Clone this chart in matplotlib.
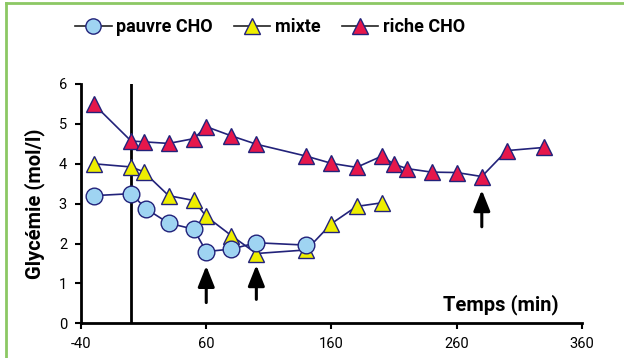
import matplotlib
matplotlib.use('Agg')
import matplotlib.pyplot as plt
from matplotlib.lines import Line2D

# glycemia (mmol/l) vs time (min)
pauvre_t = [-30, 0, 12, 30, 50, 60, 80, 100, 140]
pauvre_g = [3.2, 3.25, 2.87, 2.51, 2.36, 1.8, 1.86, 2.02, 1.96]

mixte_t = [-30, 0, 10, 30, 50, 60, 80, 100, 140, 160, 180, 200]
mixte_g = [4.0, 3.92, 3.8, 3.2, 3.08, 2.68, 2.2, 1.75, 1.84, 2.5, 2.93, 3.02]

riche_t = [-30, 0, 10, 30, 50, 60, 80, 100, 140, 160, 180, 200, 210, 220, 240, 260, 280, 300, 330]
riche_g = [5.5, 4.57, 4.55, 4.51, 4.63, 4.93, 4.7, 4.49, 4.19, 4.01, 3.91, 4.19, 3.99,
           3.88, 3.79, 3.78, 3.68, 4.33, 4.41]

# arrows: (time, base, tip)
arrows = [(60, 0.52, 1.44), (100, 0.6, 1.46), (280, 2.42, 3.34)]

xticks = [-40, 60, 160, 260, 360]
yticks = [0, 1, 2, 3, 4, 5, 6]

navy = '#22227a'
blue = '#9fd4f2'
yellow = '#eeee00'
red = '#e6174b'
fnt = 'Roboto'
plt.rcParams['axes.unicode_minus'] = False

fig = plt.figure(figsize=(6.24, 3.58), dpi=100, facecolor='white')
ax = fig.add_axes([0.1298, 0.0969, 0.8029, 0.6685])

mk = dict(ms=11, mec=navy, mew=1.0, lw=1.2, color=navy)
ax.plot(riche_t, riche_g, '^', mfc=red, ls='-', zorder=3, **mk)
ax.plot(mixte_t, mixte_g, '^', mfc=yellow, ls='-', zorder=4, **mk)
ax.plot(pauvre_t, pauvre_g, 'o', mfc=blue, ls='-', zorder=5, **{**mk, 'ms': 12})

# start of exercise
ax.axvline(0, color='black', lw=2, zorder=2)

for t, y0, y1 in arrows:
    ax.annotate('', xy=(t, y1), xytext=(t, y0),
                arrowprops=dict(arrowstyle='-|>,head_length=0.7,head_width=0.28',
                                lw=2.2, color='black', mutation_scale=18, shrinkA=0, shrinkB=0))

ax.set_xlim(-40, 360)
ax.set_ylim(0, 6)
ax.set_xticks(xticks)
ax.set_yticks(yticks)
for s in ['top', 'right']:
    ax.spines[s].set_visible(False)
for s in ['left', 'bottom']:
    ax.spines[s].set_linewidth(2)
ax.tick_params(axis='both', direction='out', length=4, width=1.5, labelsize=10.5, pad=6)
for lab in ax.get_xticklabels() + ax.get_yticklabels():
    lab.set_family(fnt)

ax.set_ylabel('Glycémie (mol/l)', fontsize=14.5, fontweight='bold', family=fnt, labelpad=10)
ax.text(341, 0.46, 'Temps (min)', ha='right', va='center', fontsize=14.5,
        fontweight='bold', family=fnt)

handles = [
    Line2D([], [], marker='o', ms=11, mfc=blue, mec=navy, color='#222222', lw=1.2),
    Line2D([], [], marker='^', ms=11, mfc=yellow, mec=navy, color='#222222', lw=1.2),
    Line2D([], [], marker='^', ms=11, mfc=red, mec=navy, color='#222222', lw=1.2),
]
fig.legend(handles, ['pauvre CHO', 'mixte', 'riche CHO'], loc='center',
           bbox_to_anchor=(0.433, 0.925), ncol=3, frameon=False, handlelength=2.0,
           handletextpad=0.25, columnspacing=1.2,
           prop=dict(family=fnt, weight='bold', size=13))

# green frame
fig.add_artist(Line2D([0.009, 0.009], [0, 0.992], color='#8cc864', lw=2, transform=fig.transFigure))
fig.add_artist(Line2D([0.009, 1], [0.992, 0.992], color='#8cc864', lw=2, transform=fig.transFigure))

fig.savefig('out.png', dpi=100)
